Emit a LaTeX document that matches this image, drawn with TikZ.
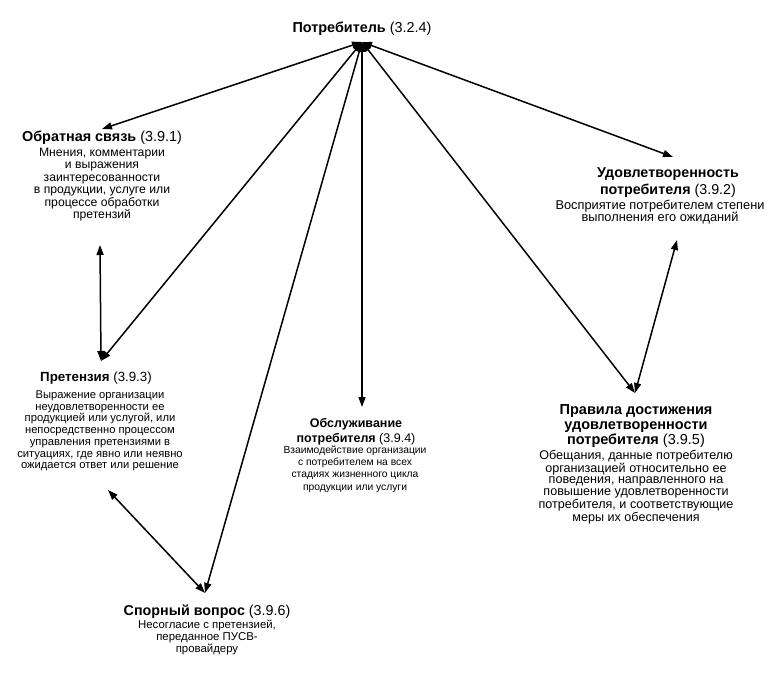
\documentclass[tikz,border=0pt]{standalone}
\usepackage{fontspec}
\setmainfont{Liberation Sans}
\usetikzlibrary{arrows.meta}
\begin{document}
\begin{tikzpicture}[x=1pt,y=-1pt,
  ttl/.style 2 args={align=center,inner sep=0pt,font=\fontsize{#1}{#2}\selectfont},
  dsc/.style 2 args={align=center,inner sep=0pt,font=\fontsize{#1}{#2}\selectfont},
  link/.style={line width=1.5pt,{Triangle[length=10pt,width=7pt]}-{Triangle[length=10pt,width=7pt]}}]
\useasboundingbox[fill=white] (0,0) rectangle (778,676);

% titles and descriptions
\node[ttl={14.4}{16}] (potr) at (362,29) {\textbf{Потребитель} (3.2.4)};

\node[ttl={14.4}{16}] (obT) at (102,138) {\textbf{Обратная связь} (3.9.1)};
\node[dsc={12.2}{12.4}] (obD) at (102,184.5) {Мнения, комментарии\\и выражения\\заинтересованности\\в продукции, услуге или\\процессе обработки\\претензий};

\node[ttl={14.3}{16.7}] (udT) at (668,182.5) {\textbf{Удовлетворенность}\\\textbf{потребителя} (3.9.2)};
\node[dsc={12.8}{12.3}] (udD) at (660,212) {Восприятие потребителем степени\\выполнения его ожиданий};

\node[ttl={13.3}{15}] (prT) at (96,378) {\textbf{Претензия} (3.9.3)};
\node[dsc={11.2}{11.7}] (prD) at (100,431) {Выражение организации\\неудовлетворенности ее\\продукцией или услугой, или\\непосредственно процессом\\управления претензиями в\\ситуациях, где явно или неявно\\ожидается ответ или решение};

\node[ttl={12.5}{15}] (obsT) at (356,431.5) {\textbf{Обслуживание}\\\textbf{потребителя} (3.9.4)};
\node[dsc={10.3}{12.3}] (obsD) at (355,469) {Взаимодействие организации\\с потребителем на всех\\стадиях жизненного цикла\\продукции или услуги};

\node[ttl={14.5}{15}] (plT) at (636,426.5) {\textbf{Правила достижения}\\\textbf{удовлетворенности}\\\textbf{потребителя} (3.9.5)};
\node[dsc={12.6}{11.7}] (plD) at (636,487) {Обещания, данные потребителю\\организацией относительно ее\\поведения, направленного на\\повышение удовлетворенности\\потребителя, и соответствующие\\меры их обеспечения};

\node[ttl={14.3}{16}] (spT) at (207,612) {\textbf{Спорный вопрос} (3.9.6)};
\node[dsc={11.4}{12}] (spD) at (207,637.5) {Несогласие с претензией,\\переданное ПУСВ-\\провайдеру};

% connector end points
\coordinate (hub) at (362,42);
\coordinate (obA) at (102,129);
\coordinate (obB) at (100,245);
\coordinate (udA) at (673,157);
\coordinate (udB) at (677,240);
\coordinate (prA) at (101,361);
\coordinate (prB) at (108,490);
\coordinate (obsA) at (362,407);
\coordinate (plA) at (635,393);
\coordinate (spA) at (205,593);

% connectors
\draw[link] (hub) -- (obA);
\draw[link] (hub) -- (udA);
\draw[link] (hub) -- (prA);
\draw[link] (hub) -- (obsA);
\draw[link] (hub) -- (plA);
\draw[link] (hub) -- (spA);
\draw[link] (obB) -- (prA);
\draw[link] (udB) -- (plA);
\draw[link] (prB) -- (spA);
\end{tikzpicture}
\end{document}
